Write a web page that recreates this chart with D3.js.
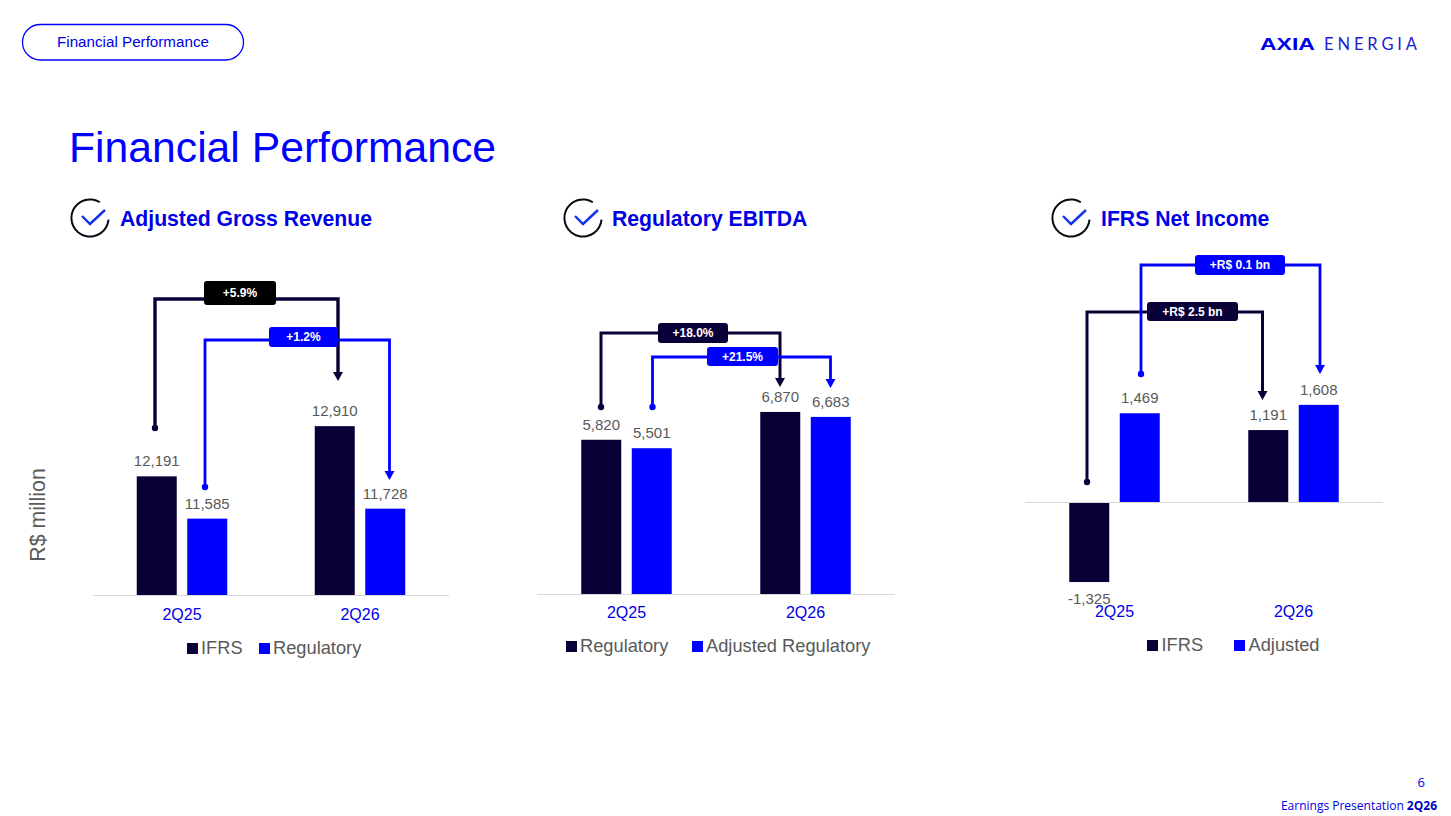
<!DOCTYPE html>
<html><head><meta charset="utf-8">
<script src="https://cdn.jsdelivr.net/npm/d3@7/dist/d3.min.js"></script>
<style>html,body{margin:0;padding:0;background:#fff}svg{display:block}text{font-family:"Liberation Sans",Arial,sans-serif}</style>
</head><body><svg id="c" width="1451" height="816"></svg>
<script>
// ---- data ----
const periods = ["2Q25","2Q26"];
const revenueSeries = ["IFRS","Regulatory"];
const revenueIfrs = [12191,12910];
const revenueRegulatory = [11585,11728];
const ebitdaSeries = ["Regulatory","Adjusted Regulatory"];
const ebitdaRegulatory = [5820,6870];
const ebitdaAdjusted = [5501,6683];
const incomeSeries = ["IFRS","Adjusted"];
const incomeIfrs = [-1325,1191];
const incomeAdjusted = [1469,1608];
const revenueDeltas = ["+5.9%","+1.2%"];
const ebitdaDeltas = ["+18.0%","+21.5%"];
const incomeDeltas = ["+R$ 2.5 bn","+R$ 0.1 bn"];
// ---- style / layout ----
const DARK="#0a0038", BLUE="#0000ff", HEAD="#0000e6", GREY="#595959";
const svg=d3.select("#c");
const fmt=v=>d3.format(",")(v).replace("\u2212","-");

const panels=[
 {title:"Adjusted Gross Revenue",ix:90,tx:120,ty:226,x0:93,x1:449,base:595,y0:10491,k:0.0698,axisY:625,
  series:revenueSeries,vals:[revenueIfrs,revenueRegulatory],deltas:revenueDeltas,
  legendY:648,legendX:[187,259],textGap:14,
  br:[{c:DARK,pill:"#000",x0:155,x1:338,top:299,dot:428,end:381,p:[204,276,281,305],w:3.4},
      {c:BLUE,pill:BLUE,x0:205,x1:389.5,top:340,dot:487,end:480,p:[269,338,327,347],w:2.8}]},
 {title:"Regulatory EBITDA",ix:583,tx:612,ty:226,x0:537,x1:895,base:594,y0:0,k:0.0265,axisY:623,
  series:ebitdaSeries,vals:[ebitdaRegulatory,ebitdaAdjusted],deltas:ebitdaDeltas,
  legendY:646,legendX:[566,692],textGap:14,
  br:[{c:DARK,pill:DARK,x0:601,x1:780,top:333,dot:407,end:387,p:[658,728,323,343],w:3},
      {c:BLUE,pill:BLUE,x0:652.5,x1:830.5,top:357,dot:407,end:388,p:[707,778,347,366],w:2.8}]},
 {title:"IFRS Net Income",ix:1071,tx:1101,ty:226,x0:1025,x1:1383,base:502,y0:0,k:0.0604,axisY:622,
  series:incomeSeries,vals:[incomeIfrs,incomeAdjusted],deltas:incomeDeltas,
  legendY:645,legendX:[1147,1234],textGap:14.5,
  br:[{c:DARK,pill:DARK,x0:1087,x1:1262.5,top:312,dot:482,end:400,p:[1147,1238,302,321],w:3},
      {c:BLUE,pill:BLUE,x0:1141,x1:1320,top:265,dot:374,end:374,p:[1195,1285,255,275],w:2.8}]}
];

// header
svg.append("rect").attr("x",22.5).attr("y",24.5).attr("width",221).attr("height",35.5).attr("rx",17.8)
  .attr("fill","#fff").attr("stroke",BLUE).attr("stroke-width",1.3);
svg.append("text").attr("x",133).attr("y",47).attr("text-anchor","middle").attr("font-size",15.2).attr("fill",HEAD).text("Financial Performance");
svg.append("text").attr("x",69).attr("y",162).attr("font-size",42.7).attr("fill",BLUE).text("Financial Performance");
svg.append("text").attr("x",1260).attr("y",50).attr("font-size",17).attr("font-weight",700)
  .attr("fill",HEAD).attr("textLength",55).attr("lengthAdjust","spacingAndGlyphs").text("AXIA");
svg.append("text").attr("x",1324).attr("y",50).attr("font-size",16.5).attr("fill","#2020d0")
  .style("font-family","Lato").attr("textLength",93).text("ENERGIA");
svg.append("text").attr("x",1425).attr("y",787).attr("text-anchor","end").attr("font-size",13).attr("fill",HEAD)
  .style("font-family","'Open Sans'").text("6");
const foot=svg.append("text").attr("x",1437).attr("y",810).attr("text-anchor","end").attr("font-size",12).attr("fill",HEAD).style("font-family","'Open Sans'");
foot.append("tspan").text("Earnings Presentation ");
foot.append("tspan").attr("font-weight",700).attr("fill","#0000c0").text("2Q26");
svg.append("text").attr("transform","translate(45,515) rotate(-90)").attr("text-anchor","middle").attr("font-size",21.3).attr("fill",GREY).text("R$ million");

panels.forEach(p=>{
  const g=svg.append("g");
  // heading icon
  const ic=g.append("g").attr("transform",`translate(${p.ix},218)`);
  ic.append("path").attr("d",d3.arc()({innerRadius:17.6,outerRadius:19.6,startAngle:95*Math.PI/180,endAngle:392*Math.PI/180})).attr("fill","#0a0a14");
  ic.append("path").attr("d","M-8,-2L0,6L15,-8").attr("fill","none").attr("stroke","#1030f0").attr("stroke-width",2.4);
  g.append("text").attr("x",p.tx).attr("y",p.ty).attr("font-size",21.2).attr("font-weight",700).attr("fill",HEAD).text(p.title);

  // scales
  const x=d3.scaleBand().domain(periods).range([p.x0,p.x1]);
  const xs=d3.scaleBand().domain(p.series).range([x.bandwidth()/2-45.25,x.bandwidth()/2+45.25]).paddingInner(0.208).paddingOuter(0);
  const yMax=p.y0+p.base/p.k;
  const y=d3.scaleLinear().domain([p.y0,yMax]).range([p.base,0]);
  const color=d3.scaleOrdinal().domain(p.series).range([DARK,BLUE]);

  // bars
  const rows=p.series.flatMap((s,si)=>periods.map((c,ci)=>({s,si,c,ci,v:p.vals[si][ci]})));
  g.selectAll("rect.bar").data(rows).join("rect").attr("class","bar")
    .attr("x",d=>x(d.c)+xs(d.s)).attr("width",xs.bandwidth())
    .attr("y",d=>Math.min(y(d.v),p.base)).attr("height",d=>Math.abs(y(d.v)-p.base))
    .attr("fill",d=>color(d.s));
  g.selectAll("text.val").data(rows).join("text").attr("class","val")
    .attr("x",d=>x(d.c)+xs(d.s)+xs.bandwidth()/2)
    .attr("y",d=>d.v<0?y(d.v)+22:y(d.v)-10)
    .attr("text-anchor","middle").attr("font-size",15).attr("fill",GREY).text(d=>fmt(d.v));

  // baseline + category axis
  g.append("line").attr("x1",p.x0).attr("x2",p.x1).attr("y1",p.base+.5).attr("y2",p.base+.5).attr("stroke","#d9d9d9");
  const ax=g.append("g").attr("transform",`translate(0,${p.axisY-19})`).call(d3.axisBottom(x).tickSize(0).tickPadding(3));
  ax.select(".domain").remove();
  ax.selectAll("text").attr("font-size",16).attr("fill",HEAD).style("font-family","'Liberation Sans'");

  // legend
  p.series.forEach((s,i)=>{
    g.append("rect").attr("x",p.legendX[i]).attr("y",p.legendY-5).attr("width",11).attr("height",11).attr("fill",color(s));
    g.append("text").attr("x",p.legendX[i]+p.textGap).attr("y",p.legendY+6).attr("font-size",18.25).attr("fill",GREY).text(s);
  });

  // change brackets
  p.br.forEach((b,i)=>{
    g.append("path").attr("d",`M${b.x0},${b.dot}V${b.top}H${b.x1}V${b.end-7}`).attr("fill","none").attr("stroke",b.c).attr("stroke-width",b.w);
    g.append("circle").attr("cx",b.x0).attr("cy",b.dot).attr("r",3.2).attr("fill",b.c);
    g.append("path").attr("d",`M${b.x1-5},${b.end-9}H${b.x1+5}L${b.x1},${b.end}Z`).attr("fill",b.c);
    const [l,r,t,bt]=b.p;
    g.append("rect").attr("x",l).attr("y",t).attr("width",r-l).attr("height",bt-t).attr("rx",3).attr("fill",b.pill);
    g.append("text").attr("x",(l+r)/2).attr("y",(t+bt)/2+4).attr("text-anchor","middle").attr("font-size",12).attr("font-weight",700).attr("fill","#fff").text(p.deltas[i]);
  });
});
</script></body></html>
